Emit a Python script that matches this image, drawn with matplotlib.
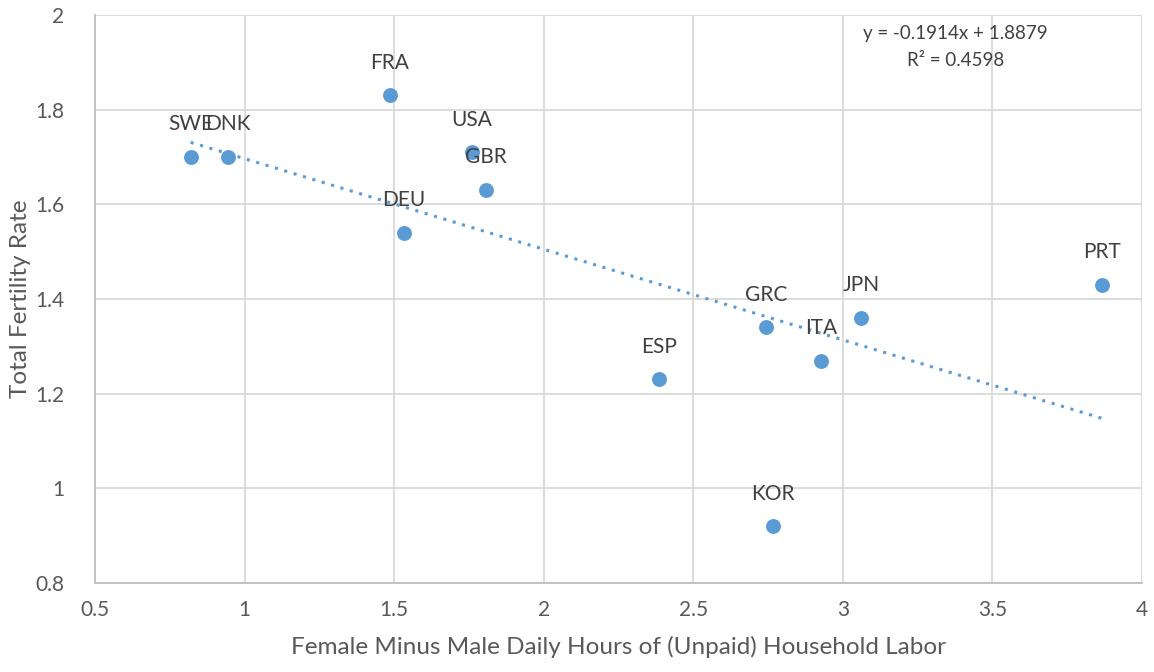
import matplotlib.pyplot as plt
import numpy as np

plt.rcParams['font.family'] = ['Lato', 'DejaVu Sans']

countries = ["SWE", "DNK", "FRA", "USA", "GBR", "DEU", "ESP", "GRC", "ITA", "JPN", "KOR", "PRT"]
hours_gap = [0.82, 0.945, 1.486, 1.76, 1.807, 1.533, 2.386, 2.743, 2.927, 3.061, 2.767, 3.867]
fertility = [1.70, 1.70, 1.83, 1.71, 1.63, 1.54, 1.23, 1.34, 1.27, 1.36, 0.92, 1.43]

slope = -0.1914
intercept = 1.8879
r2 = 0.4598

blue = "#5B9BD5"
grid_c = "#D9D9D9"
txt_c = "#595959"

fig = plt.figure(figsize=(11.54, 6.72), dpi=100)
ax = fig.add_axes([0.0823, 0.1324, 0.9073, 0.8453])

# trendline over the data range
xt = np.array([min(hours_gap), max(hours_gap)])
ax.plot(xt, slope * xt + intercept, color=blue, linestyle=(0, (1, 2.2)), linewidth=2.2,
        zorder=2)

ax.scatter(hours_gap, fertility, s=115, color=blue, zorder=3, linewidths=0)

for c, x, y in zip(countries, hours_gap, fertility):
    ax.annotate(c, (x, y), xytext=(0, 23.5), textcoords="offset points",
                ha="center", va="center", fontsize=15, color="#404040", zorder=4)

ax.text(0.822, 0.944, f"y = {slope}x + {intercept}\nR² = {r2}", transform=ax.transAxes,
        ha="center", va="center", fontsize=13.5, color="#404040", linespacing=1.75)

ax.set_xlim(0.5, 4)
ax.set_ylim(0.8, 2)
ax.set_xticks(np.arange(0.5, 4.01, 0.5))
ax.set_yticks(np.arange(0.8, 2.01, 0.2))
ax.set_xticklabels(["0.5", "1", "1.5", "2", "2.5", "3", "3.5", "4"])
ax.set_yticklabels(["0.8", "1", "1.2", "1.4", "1.6", "1.8", "2"])
ax.grid(True, color=grid_c, linewidth=1.3)
ax.set_axisbelow(True)
for s in ["top", "right"]:
    ax.spines[s].set_visible(False)
for s in ["left", "bottom"]:
    ax.spines[s].set_color("#BFBFBF")
    ax.spines[s].set_linewidth(1.3)
ax.tick_params(length=0, labelsize=15, colors=txt_c)
ax.tick_params(axis="x", pad=12)
ax.tick_params(axis="y", pad=22)

ax.set_xlabel("Female Minus Male Daily Hours of (Unpaid) Household Labor", fontsize=17.5,
              color=txt_c, labelpad=12)
ax.set_ylabel("Total Fertility Rate", fontsize=17.5, color=txt_c)
ax.yaxis.set_label_coords(-0.061, 0.5)

fig.savefig("out.png", dpi=100)
